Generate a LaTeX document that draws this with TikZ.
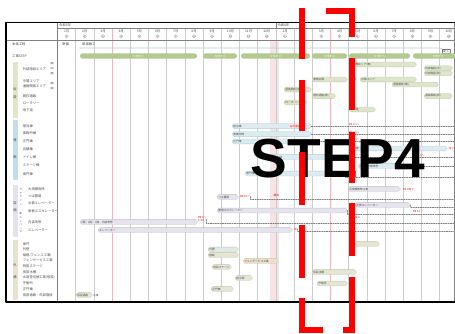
\documentclass[tikz,border=0pt]{standalone}
\usepackage{fontspec}
\setsansfont{Liberation Sans}
\newfontfamily\jp{Noto Sans CJK JP}
\usepackage{tikz}
\usetikzlibrary{calc}
\usetikzlibrary{arrows}
\definecolor{ffqqqq}{rgb}{1.,0.,0.}
\definecolor{txtgray}{rgb}{0.3,0.3,0.3}
\definecolor{gridgray}{rgb}{0.8,0.8,0.8}
\definecolor{pinkline}{rgb}{0.93,0.72,0.74}
\definecolor{pinkband}{rgb}{0.97,0.89,0.9}
\definecolor{stepgreen}{rgb}{0.7,0.79,0.56}
\definecolor{grnfill}{rgb}{0.87,0.9,0.8}
\definecolor{grndraw}{rgb}{0.74,0.8,0.65}
\definecolor{blufill}{rgb}{0.86,0.92,0.94}
\definecolor{bludraw}{rgb}{0.7,0.81,0.85}
\definecolor{lavfill}{rgb}{0.9,0.89,0.92}
\definecolor{lavdraw}{rgb}{0.76,0.75,0.8}
\definecolor{begfill}{rgb}{0.9,0.9,0.84}
\definecolor{begdraw}{rgb}{0.77,0.77,0.67}
\definecolor{peach}{rgb}{0.93,0.87,0.8}
\definecolor{sidegreen}{rgb}{0.87,0.91,0.77}
\definecolor{sideblue}{rgb}{0.74,0.88,0.92}
\definecolor{sidegray}{rgb}{0.89,0.89,0.92}
\definecolor{sidebeige}{rgb}{0.91,0.89,0.81}
\tikzstyle{every node}=[font=\jp\fontsize{3.3}{3.8}\selectfont, text=txtgray, inner sep=0pt]
\tikzstyle{lbl}=[anchor=west]
\tikzstyle{redlbl}=[anchor=west, text=ffqqqq, font=\jp\fontsize{2.7}{3.1}\selectfont]
\tikzstyle{bar}=[anchor=west, rounded corners=1.8pt, minimum height=4.8pt, inner xsep=1.2pt, align=left, line width=0.3pt, font=\jp\fontsize{2.7}{3.1}\selectfont]
\tikzstyle{gbar}=[bar, fill=grnfill, draw=grndraw]
\tikzstyle{bbar}=[bar, fill=blufill, draw=bludraw]
\tikzstyle{vbar}=[bar, fill=lavfill, draw=lavdraw]
\tikzstyle{ebar}=[bar, fill=begfill, draw=begdraw]
\tikzstyle{stepbar}=[rounded corners=2.6pt, minimum height=5.4pt, fill=stepgreen, text=white, font=\sffamily\fontsize{3}{3.4}\selectfont]
\tikzstyle{dl}=[dash pattern=on 1.4pt off 1pt, line width=0.45pt, color=gray]
\tikzstyle{redline}=[line width=6pt, color=ffqqqq, line cap=butt, line join=miter]

\begin{document}
\begin{tikzpicture}[line cap=round,line join=round,x=1pt,y=-1pt]
\fill[white] (0,0) rectangle (455,334);
\useasboundingbox (0,0) rectangle (455,334);
% grid and header
\fill[pinkband] (270,40.5) rectangle (279,302);
\foreach \i in {1,...,21}
  \draw[gridgray, line width=0.5pt] ({57.5+18.2*\i},28.5) -- ({57.5+18.2*\i},302);
\draw[pinkline, line width=0.5pt] (112.1,28.5) -- (112.1,302);
\draw[pinkline, line width=0.5pt] (330.5,28.5) -- (330.5,302);
\draw[gray, line width=0.4pt] (57.5,28.5) -- (455,28.5);
\draw[gray, line width=0.4pt] (275.9,22.5) -- (275.9,28.5);
\draw[gray, line width=0.5pt] (6,40.5) -- (455,40.5);
\draw[gray, line width=0.5pt] (57.5,22.5) -- (57.5,302);
\draw[gray, line width=0.4pt] (454.5,22.5) -- (454.5,302);
\node[lbl] (y1) at (59,25.6) {令和5年};
\node[lbl] (y2) at (277.5,25.6) {令和6年};
\foreach \i in {0,...,21}{
  \pgfmathtruncatemacro{\m}{mod(\i,12)+1}
  \node (m\i) at ({66.6+18.2*\i},31) {\m 月};
  \node[circle, draw=gray, line width=0.2pt, minimum size=3.4pt, font=\sffamily\fontsize{2.2}{2.4}\selectfont] (c\i) at ({66.6+18.2*\i},36.3) {\m};
}
% left column
\node[lbl] (hd1) at (12,44.5) {本体工程};
\node[lbl] (hd2) at (12,56) {工事STEP};
\fill[sidegreen] (12.5,62) rectangle (17.5,118);
\fill[sideblue] (12.5,120) rectangle (17.5,180);
\fill[sidegray] (12.5,185) rectangle (17.5,237);
\fill[sidebeige] (12.5,240) rectangle (17.5,300);
\node (k1) at (15,89) {仮};
\node (k2) at (15,97) {設};
\node (k3) at (15,140) {建};
\node (k4) at (15,157) {築};
\node (k5) at (15,203) {設};
\node (k6) at (15,210) {備};
\node (k7) at (15,265) {外};
\node (k8) at (15,277) {構};
\node[align=center, font=\jp\fontsize{2.5}{3.6}\selectfont] (k9) at (21,197) {サ\\テ\\ラ\\イ\\ト};
\node[align=center, font=\jp\fontsize{2.5}{3.6}\selectfont] (k10) at (21,223) {新\\エ\\レ\\ベ\\ー\\タ};
\node[lbl] (a1) at (22.7,69) {外部階段エリア};
\node[font=\jp\fontsize{2.5}{3}\selectfont] (a1a) at (52,64) {(東)};
\node[font=\jp\fontsize{2.5}{3}\selectfont] (a1b) at (52,69) {(中)};
\node[font=\jp\fontsize{2.5}{3}\selectfont] (a1c) at (52,74) {(西)};
\node[lbl] (a2) at (22.7,81.5) {中間エリア};
\node[lbl] (a3) at (22.7,86) {通路関係エリア};
\node[font=\jp\fontsize{2.5}{3}\selectfont] (a3a) at (52,84) {(東)};
\node[font=\jp\fontsize{2.5}{3}\selectfont] (a3b) at (52,88.5) {(西)};
\node[lbl] (a4) at (22.7,96.5) {既存通路};
\node[lbl] (a5) at (22.7,103) {ロータリー};
\node[lbl] (a6) at (22.7,110) {地下道};
\node[lbl] (a7) at (22.7,126) {宿泊棟};
\node[lbl] (a8) at (22.7,133.5) {事務所棟};
\node[lbl] (a9) at (22.7,141) {正門棟};
\node[lbl] (a10) at (22.7,149) {店舗棟};
\node[lbl] (a11) at (22.7,157.5) {トイレ棟};
\node[lbl] (a12) at (22.7,165.5) {ステージ棟};
\node[lbl] (a13) at (22.7,174) {東門棟};
\node[lbl] (a14) at (28,189) {大規模改修};
\node[lbl] (a15) at (28,196.5) {つば置場};
\node[lbl] (a16) at (28,203.5) {北側エレベーター};
\node[lbl] (a17) at (28,211) {東側エスカレーター};
\node[lbl] (a18) at (28,222) {内装改修};
\node[lbl] (a19) at (28,230) {エレベーター};
\node[lbl] (a20) at (22.7,244) {東門};
\node[lbl] (a21) at (22.7,249.5) {外壁};
\node[lbl] (a22) at (22.7,255) {植栽(フェンス工事)};
\node[lbl] (a23) at (22.7,260.5) {フェンサービス工事};
\node[lbl] (a24) at (22.7,266) {特設ステージ};
\node[lbl] (a25) at (22.7,272) {仮設水槽};
\node[lbl] (a26) at (22.7,277.5) {水道管切替工事(仮設)};
\node[lbl] (a27) at (22.7,283) {守衛所};
\node[lbl] (a28) at (22.7,289) {正門棟};
\node[lbl] (a29) at (22.7,295) {仮設通路・外部階段};
% main schedule
\node[lbl] (p0) at (62,44.5) {準備};
\node[lbl] (p1) at (82,44.5) {現場着工};
\coordinate (s0) at (80,48);
\node[draw=gray, line width=0.3pt, inner sep=0.8pt] (kan) at (446,51) {竣工};
\draw[color=bludraw, line width=0.6pt] (s0) -- (437,48) -- (kan.north west);
\fill[color=bludraw] (s0) circle (0.7pt);
\node[stepbar, minimum width=117pt] (st1) at (138.5,56) {STEP 1};
\node[stepbar, minimum width=34pt] (st2) at (220,56) {STEP 2};
\node[stepbar, minimum width=69pt] (st3) at (275.5,56) {STEP 3};
\node[stepbar, minimum width=35pt] (st4) at (329.5,56) {STEP 4};
\node[stepbar, minimum width=61pt] (st5) at (379.5,56) {STEP 5};
\node[stepbar, minimum width=50pt] (st6) at (438,56) {STEP 6};
% green
\node[gbar, text width=64.6pt] (g1) at (349,64.5) {増築棟エリア(東)};
\node[gbar, text width=25.6pt] (g2) at (424,68.2) {外部階段(中)};
\node[gbar, text width=25.6pt] (g3) at (424,73.3) {外部階段(西)};
\node[gbar, text width=32.6pt] (g4) at (312,79.5) {東側広場};
\node[redlbl] (r0) at (350.5,79.5) {1/10};
\node[gbar, text width=53.6pt] (g5) at (360,79.5) {中間エリア};
\node[gbar, text width=43.6pt] (g6) at (392,84.6) {通路関係(東)};
\node[gbar, text width=24.6pt] (g7) at (284,89.5) {通路関係(中)};
\node[gbar, text width=20.6pt] (g8) at (312,96) {既存通路(西)};
\node[gbar, text width=25.6pt] (g9) at (424,96) {通路関係(西)};
\node[gbar, text width=19.6pt] (g10) at (284,102.5) {ロータリー};
\node[gbar, text width=23.6pt] (g11) at (349,109.5) {地下道};
% blue
\node[bbar, text width=76.6pt] (b1) at (232,126) {宿泊棟};
\node[redlbl, fill=pinkband, inner sep=0.4pt] (r1) at (289,126) {12月末完了};
\node[redlbl] (r2) at (349,124.5) {R6.4.1〜};
\coordinate (e1) at (455,126);
\draw[dl] (b1.east) -- (e1);
\node[bbar, text width=76.6pt] (b2) at (232,134) {事務所棟};
\node[redlbl] (r3) at (349,132.5) {R6.4.1〜};
\coordinate (e2) at (455,134);
\draw[dl] (b2.east) -- (e2);
\node[bbar, text width=76.6pt] (b3) at (232,141.5) {正門棟};
\node[redlbl] (r4) at (349,140) {R6.4.1〜};
\coordinate (e3) at (455,141.5);
\draw[dl] (b3.east) -- (e3);
\node[bbar, text width=95.6pt] (b4) at (349,148.5) {店舗棟};
\node[redlbl] (r5) at (448.5,148.5) {完了};
\node[bbar, text width=77.6pt] (b5) at (270,157) {トイレ棟};
\node[redlbl] (r6) at (416,155.5) {R6.9〜};
\coordinate (e5) at (455,157);
\draw[dl] (b5.east) -- (e5);
\node[bbar, text width=36.6pt] (b6) at (358,166) {ステージ棟改修};
\coordinate (e6) at (455,166);
\draw[dl] (b6.east) -- (e6);
\node[bbar, text width=97.6pt] (b7) at (245,173.5) {東門棟};
\node[redlbl] (r7) at (350,171.5) {R6.3〜};
\coordinate (e7) at (455,177);
\draw[dl] (b7.east) |- (e7);
% lavender
\node[vbar, text width=49.6pt] (v1) at (348,189) {大規模改修工事};
\node[redlbl] (r8) at (403,189) {R6.9完了};
\node[vbar, text width=18.6pt] (v2) at (217,197) {つば置場};
\node[redlbl] (r9) at (240,196.5) {R5.10〜};
\node[redlbl] (r10) at (273.5,195.5) {撤去};
\coordinate (e9) at (455,199);
\draw[dl] (r9.east) |- (e9);
\node[vbar, text width=52.6pt] (v3) at (355,205) {北側エレベーター};
\coordinate (e10) at (455,207);
\draw[dl] (v3.east) |- (e10);
\node[redlbl] (r11) at (413,212) {R6.10〜};
\node[vbar, text width=127.6pt] (v4) at (217,210.5) {東側エスカレーター};
\node[redlbl] (r12) at (354,217.5) {R6.4};
\coordinate (e11) at (455,214);
\draw[dl] (v4.east) |- (e11);
\node[vbar, text width=114.6pt] (v5) at (80,222) {1階・2階・3階　内装改修};
\node[redlbl, align=left] (r13) at (198,219.5) {R5.9〜\\1/10};
\coordinate (e12) at (455,223);
\draw[dl] (r13.east) |- (e12);
\node[vbar, text width=191.6pt] (v6) at (98,230) {エレベーター};
\node[redlbl] (r14) at (294,229) {完};
\coordinate (e13) at (455,231);
\draw[dl] (r14.east) |- (e13);
% beige
\node[ebar, text width=21.6pt] (f1) at (355,244) {};
\node[ebar, fill=blufill!60!begfill, text width=27.6pt] (f2) at (208,249.5) {外壁};
\node[ebar, text width=27.6pt] (f3) at (208,255) {植栽};
\node[ebar, fill=peach, text width=32.6pt] (f4) at (243,261) {フェンサービス工事};
\node[ebar, text width=16.6pt] (f5) at (212,267) {特設ステージ};
\node[ebar, text width=41.6pt] (f6) at (312,272) {仮設水槽};
\node[ebar, text width=14.6pt] (f7) at (235,278) {給水管};
\node[ebar, text width=27.6pt] (f8) at (317,283.5) {守衛所};
\node[ebar, text width=19.6pt] (f9) at (211,289) {正門棟};
\node[ebar, text width=13.6pt] (f10) at (76,295) {仮設通路};
\node[lbl, font=\jp\fontsize{2.7}{3.1}\selectfont] (f10t) at (93,295) {工事};
% frame
\draw[black, line width=1.6pt, line cap=butt] (455,22.5) -- (6,22.5) -- (6,302) -- (455,302);
% overlay
\node[font=\sffamily\bfseries\fontsize{55}{57}\selectfont, text=black] (bigstep) at (338,159) {STEP4};
\draw[redline] (302,8) -- (302,59);
\draw[redline] (302,80) -- (302,131);
\draw[redline] (302,152) -- (302,205);
\draw[redline] (302,225) -- (302,278);
\draw[redline] (302,298) -- (302,329.5) -- (323,329.5);
\draw[redline] (326,11) -- (352,11) -- (352,37);
\draw[redline] (352,58) -- (352,110);
\draw[redline] (352,132) -- (352,183);
\draw[redline] (352,203) -- (352,256);
\draw[redline] (352,277) -- (352,329.5) -- (343,329.5);
\end{tikzpicture}
\end{document}
